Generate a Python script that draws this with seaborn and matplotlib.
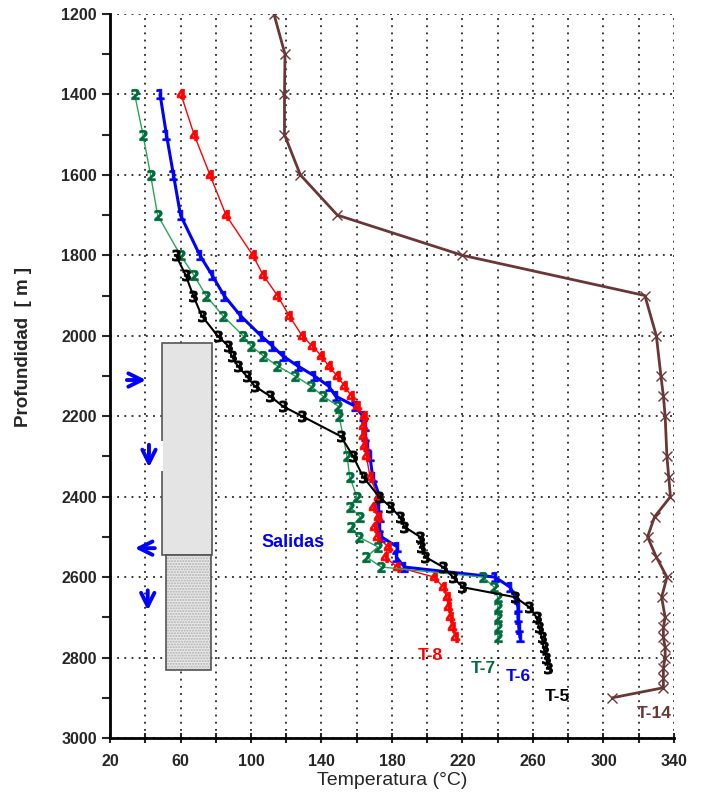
import numpy as np
import pandas as pd
import seaborn as sns
import matplotlib.pyplot as plt
from matplotlib.patches import Rectangle
from matplotlib.ticker import MultipleLocator

sns.set_style("white")
plt.rcParams['font.family'] = ['Liberation Sans', 'DejaVu Sans']

# T-5 (black "3")
t5_depth = [1800, 1850, 1900, 1950, 2000, 2025, 2050, 2075, 2100, 2125, 2150, 2175, 2200,
            2250, 2300, 2350, 2400, 2425, 2450, 2475, 2500, 2525, 2550, 2575, 2600, 2625,
            2650, 2675, 2700, 2725, 2750, 2775, 2800, 2825]
t5_temp = [57.4, 63, 67.2, 72, 81, 87, 89, 92.4, 97.5, 102, 110.8, 118, 129,
           151, 158, 163.5, 172.6, 179, 184.5, 187, 196, 196.5, 199, 209, 214.6, 220,
           250, 258, 262, 263.5, 265, 266, 267.5, 268.5]

# T-6 (blue "1")
t6_depth = [1400, 1500, 1600, 1700, 1800, 1850, 1900, 1950, 2000, 2025, 2050, 2075, 2100,
            2125, 2150, 2175, 2200, 2225, 2250, 2275, 2300, 2350, 2400, 2425, 2450, 2475,
            2500, 2525, 2550, 2575, 2600, 2625, 2650, 2675, 2700, 2725, 2750]
t6_temp = [48.4, 52, 56, 60, 71, 78, 84.7, 94, 105.7, 112, 118, 126.5, 136,
           144, 148, 159, 163.5, 164.7, 164.7, 165.8, 167.5, 169, 173, 172, 173, 172.6,
           174, 183, 182.5, 187, 238.5, 247, 250, 251.5, 251.5, 252, 252.6]

# T-7 (green "2")
t7_depth = [1400, 1500, 1600, 1700, 1800, 1850, 1900, 1950, 2000, 2025, 2050, 2075, 2100,
            2125, 2150, 2175, 2200, 2300, 2350, 2400, 2425, 2450, 2475, 2500, 2525, 2550,
            2575, 2600, 2625, 2650, 2675, 2700, 2725, 2750]
t7_temp = [34, 38.7, 43, 47, 60, 67.7, 74.5, 84, 95.5, 100, 107, 115, 125,
           134, 140.8, 149.5, 150, 154.5, 156, 160, 156, 162, 157, 161, 172, 165.5,
           174, 231.6, 238, 240, 240, 240, 240, 240]

# T-8 (red "4")
t8_depth = [1400, 1500, 1600, 1700, 1800, 1850, 1900, 1950, 2000, 2025, 2050, 2075, 2100,
            2125, 2150, 2175, 2200, 2225, 2250, 2275, 2300, 2350, 2400, 2425, 2450, 2475,
            2500, 2525, 2550, 2575, 2600, 2625, 2650, 2675, 2700, 2725, 2750]
t8_temp = [60.3, 67.7, 76.7, 85.8, 101, 107, 115, 121.6, 129, 134.6, 140, 144, 149,
           153, 157, 160, 164, 163.5, 163.5, 164, 165.5, 167.5, 172, 169, 172, 170,
           171.5, 178, 176, 183, 204, 209, 211, 212, 213, 214, 216]

# T-14 (brown x)
t14_depth = [1200, 1300, 1400, 1500, 1600, 1700, 1800, 1900, 2000, 2100, 2150, 2200, 2300,
             2350, 2400, 2450, 2500, 2550, 2600, 2650, 2700, 2725, 2750, 2775, 2800, 2825,
             2850, 2875, 2900]
t14_temp = [113, 119.3, 119, 119, 128, 149, 220, 323.5, 330, 332.6, 334, 335, 336,
            337, 338, 329, 325, 330, 336, 333, 335, 334, 334, 335, 335, 334,
            334, 334, 305]

x_ticks = [20, 60, 100, 140, 180, 220, 260, 300, 340]

fig, ax = plt.subplots(figsize=(7.03, 7.95), dpi=100)
fig.subplots_adjust(left=0.1565, right=0.9587, top=0.9824, bottom=0.0717)

# well casing
ax.add_patch(Rectangle((49.3, 2017), 28.7, 528, facecolor='#e4e4e4',
                       edgecolor='#555555', lw=1.2, zorder=1.5))
ax.add_patch(Rectangle((51.6, 2545), 25.7, 286, facecolor='#e8e8e8',
                       edgecolor='#b0b0b0', hatch='......', lw=0, zorder=1.5))
ax.add_patch(Rectangle((51.6, 2545), 25.7, 286, facecolor='none',
                       edgecolor='#555555', lw=1.2, zorder=1.6))
ax.add_patch(Rectangle((46.5, 2262), 3.4, 75, facecolor='white',
                       edgecolor='none', zorder=1.7))

curves = [
    (t14_temp, t14_depth, '#6b3636', '#6b3636', 'x', 2.0, 7),
    (t6_temp, t6_depth, '#0000ff', '#0000ff', r'$\mathbf{1}$', 2.2, 7.5),
    (t8_temp, t8_depth, '#ff0000', '#ff0000', r'$\mathbf{4}$', 1.0, 7.5),
    (t7_temp, t7_depth, '#2aa556', '#006b3c', r'$\mathbf{2}$', 1.0, 7.5),
    (t5_temp, t5_depth, '#000000', '#000000', r'$\mathbf{3}$', 1.5, 8),
]
for temp, depth, lc, mc, mk, lw, ms in curves:
    sns.lineplot(x=temp, y=depth, sort=False, estimator=None, ax=ax,
                 color=lc, lw=lw, marker=mk, markersize=ms,
                 markerfacecolor=mc, markeredgecolor=mc,
                 markeredgewidth=1.0 if mk == 'x' else 0.6, zorder=3)

# arrows
arr = dict(arrowstyle='->', color='#0000ff', lw=2.8, mutation_scale=24)
ax.annotate('', xy=(42, 2110), xytext=(28, 2110), arrowprops=arr, zorder=4)
ax.annotate('', xy=(42.1, 2334), xytext=(42.1, 2264), arrowprops=arr, zorder=4)
ax.annotate('', xy=(32.5, 2528), xytext=(47, 2528), arrowprops=arr, zorder=4)
ax.annotate('', xy=(41.4, 2690), xytext=(41.4, 2626), arrowprops=arr, zorder=4)

ax.text(124, 2515, 'Salidas', color='#0000ff', fontsize=13, fontweight='bold',
        ha='center', va='center')
labels = [('T-8', 201.6, 2794, '#ff0000'), ('T-7', 232, 2826, '#006b3c'),
          ('T-6', 251.5, 2846, '#0000ff'), ('T-5', 273.6, 2896, '#000000'),
          ('T-14', 328.6, 2938, '#6b3636')]
for txt, x, y, c in labels:
    ax.text(x, y, txt, color=c, fontsize=12.5, fontweight='bold',
            ha='center', va='center')

ax.set_xlim(20, 340)
ax.set_ylim(3000, 1200)
ax.set_xticks(x_ticks)
ax.xaxis.set_minor_locator(MultipleLocator(20))
ax.yaxis.set_major_locator(MultipleLocator(200))
ax.yaxis.set_minor_locator(MultipleLocator(100))
ax.grid(True, which='major', color='black', linestyle=(0, (1.2, 3.5)), lw=1.1)
ax.grid(True, which='minor', axis='x', color='black', linestyle=(0, (1.2, 3.5)), lw=1.1)
ax.tick_params(axis='x', which='both', direction='inout', length=7, width=1.5,
               bottom=True, pad=8)
ax.tick_params(axis='y', which='both', direction='out', length=6, width=1.5, left=True)
ax.tick_params(labelsize=11.5)
for lab in ax.get_xticklabels() + ax.get_yticklabels():
    lab.set_fontweight('bold')
for s in ['top', 'right']:
    ax.spines[s].set_visible(False)
for s in ['left', 'bottom']:
    ax.spines[s].set_linewidth(2)
    ax.spines[s].set_color('black')

ax.set_xlabel('Temperatura (°C)', fontsize=14, labelpad=2)
ax.set_ylabel('Profundidad  [ m ]', fontsize=13.5, fontweight='bold')
ax.yaxis.set_label_coords(-0.138, 0.54)

fig.savefig('out.png', dpi=100)
